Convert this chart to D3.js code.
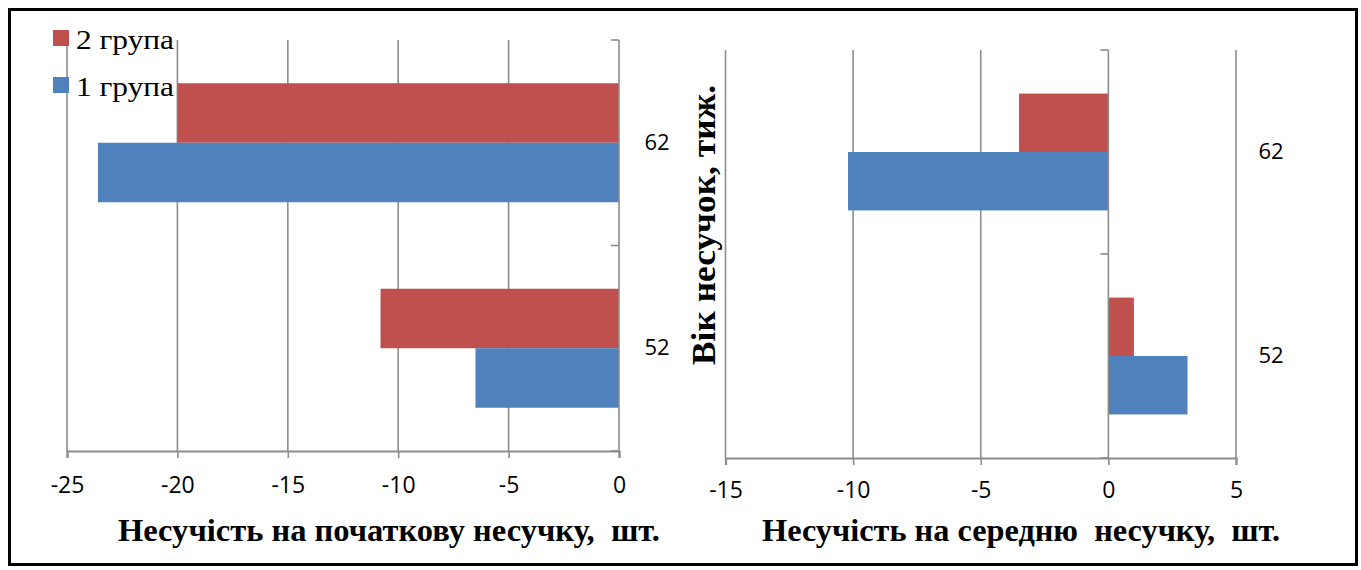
<!DOCTYPE html>
<html><head><meta charset="utf-8">
<script src="https://cdn.jsdelivr.net/npm/d3@7"></script>
<style>body{margin:0;background:#fff}svg{display:block}text{white-space:pre}</style>
</head><body><svg id="c" width="1361" height="570"></svg>
<script>
const categories = ["62", "52"];
const seriesNames = ["2 група", "1 група"];
const seriesColors = ["#C0504D", "#4F81BD"];
// values per category in order [62, 52]
const leftGroup2 = [-20.0, -10.8];
const leftGroup1 = [-23.6, -6.5];
const rightGroup2 = [-3.5, 1.0];
const rightGroup1 = [-10.2, 3.1];
const leftTicks = [-25, -20, -15, -10, -5, 0];
const rightTicks = [-15, -10, -5, 0, 5];
const leftTitle = "Несучість на початкову несучку,  шт.";
const rightTitle = "Несучість на середню  несучку,  шт.";
const yTitle = "Вік несучок, тиж.";

const svg = d3.select("#c");
svg.append("rect").attr("x", 9.5).attr("y", 9.5).attr("width", 1347).attr("height", 555)
  .attr("fill", "#fff").attr("stroke", "#000").attr("stroke-width", 3);

const gridColor = "#8c8c8c";
const tickFont = "'Open Sans', sans-serif";
const serif = "'Liberation Serif', 'Times New Roman', serif";

function panel(opt) {
  const x = d3.scaleLinear().domain(opt.domain).range(opt.xr);
  const y = d3.scaleBand().domain(categories).range(opt.yr).padding(0);
  const inner = d3.scaleBand().domain(seriesNames).range([0, y.bandwidth()]).paddingInner(0).paddingOuter(opt.outer);
  const g = svg.append("g");
  g.selectAll(".grid").data(opt.ticks.filter(t => t !== 0)).join("line")
    .attr("x1", d => x(d)).attr("x2", d => x(d)).attr("y1", opt.yr[0]).attr("y2", opt.yr[1])
    .attr("stroke", gridColor).attr("stroke-width", 1.6);
  const data = [];
  categories.forEach((c, i) => {
    data.push({c, s: seriesNames[0], v: opt.s2[i], col: seriesColors[0]});
    data.push({c, s: seriesNames[1], v: opt.s1[i], col: seriesColors[1]});
  });
  g.selectAll(".bar").data(data).join("rect")
    .attr("x", d => x(Math.min(0, d.v))).attr("width", d => Math.abs(x(d.v) - x(0)))
    .attr("y", d => y(d.c) + inner(d.s)).attr("height", inner.bandwidth())
    .attr("fill", d => d.col);
  const xa = d3.axisBottom(x).tickValues(opt.ticks).tickSize(7);
  const xg = g.append("g").attr("transform", `translate(0,${opt.yr[1]})`).call(xa);
  xg.select(".domain").attr("stroke", gridColor).attr("stroke-width", 2.2);
  xg.selectAll(".tick line").attr("stroke", gridColor).attr("stroke-width", 1.6);
  xg.selectAll(".tick text").attr("font-family", tickFont).attr("font-size", 23)
    .attr("fill", "#000").attr("dy", 0).attr("y", opt.tickLabelY - opt.yr[1]).attr("dominant-baseline", "middle")
    .text(d => d < 0 ? "-" + Math.abs(d) : d);
  const yg = g.append("g").attr("transform", `translate(${x(0)},0)`);
  yg.append("line").attr("x1", 0).attr("x2", 0).attr("y1", opt.yr[0]).attr("y2", opt.yr[1])
    .attr("stroke", gridColor).attr("stroke-width", 1.6);
  const bounds = [opt.yr[0], y(categories[1]), opt.yr[1]];
  yg.selectAll(".yt").data(bounds).join("line")
    .attr("x1", -8).attr("x2", 0).attr("y1", d => d).attr("y2", d => d)
    .attr("stroke", gridColor).attr("stroke-width", 1.6);
  g.selectAll(".cl").data(categories).join("text")
    .attr("x", opt.catX).attr("y", d => y(d) + y.bandwidth() / 2 + 1)
    .attr("text-anchor", "middle").attr("dominant-baseline", "middle")
    .attr("font-family", tickFont).attr("font-size", 22).text(d => d);
  g.append("text").attr("x", opt.titleX).attr("y", 541).attr("text-anchor", "middle")
    .attr("font-family", serif).attr("font-weight", "bold").attr("font-size", 32)
    .attr("textLength", opt.titleLen).attr("lengthAdjust", "spacingAndGlyphs")
    .text(opt.title);
}

panel({domain: [-25, 0], xr: [67, 619], yr: [40, 451], outer: 0.727, s1: leftGroup1, s2: leftGroup2,
  ticks: leftTicks, tickLabelY: 487, catX: 657, titleX: 389, titleLen: 542, title: leftTitle});
panel({domain: [-15, 5], xr: [725.5, 1236], yr: [50, 458], outer: 0.746, s1: rightGroup1, s2: rightGroup2,
  ticks: rightTicks, tickLabelY: 492, catX: 1271, titleX: 1021, titleLen: 518, title: rightTitle});

svg.append("text").attr("transform", "translate(715,225) rotate(-90)").attr("text-anchor", "middle")
  .attr("font-family", serif).attr("font-weight", "bold").attr("font-size", 33)
  .attr("textLength", 280).attr("lengthAdjust", "spacingAndGlyphs")
  .text(yTitle);

const lg = svg.append("g");
seriesNames.forEach((s, i) => {
  lg.append("rect").attr("x", 53).attr("y", 30 + i * 47).attr("width", 16).attr("height", 16).attr("fill", seriesColors[i]);
  lg.append("text").attr("x", 76).attr("y", 49 + i * 47).attr("font-family", serif)
    .attr("font-size", 27).attr("textLength", 98).attr("lengthAdjust", "spacingAndGlyphs").text(s);
});
</script></body></html>
